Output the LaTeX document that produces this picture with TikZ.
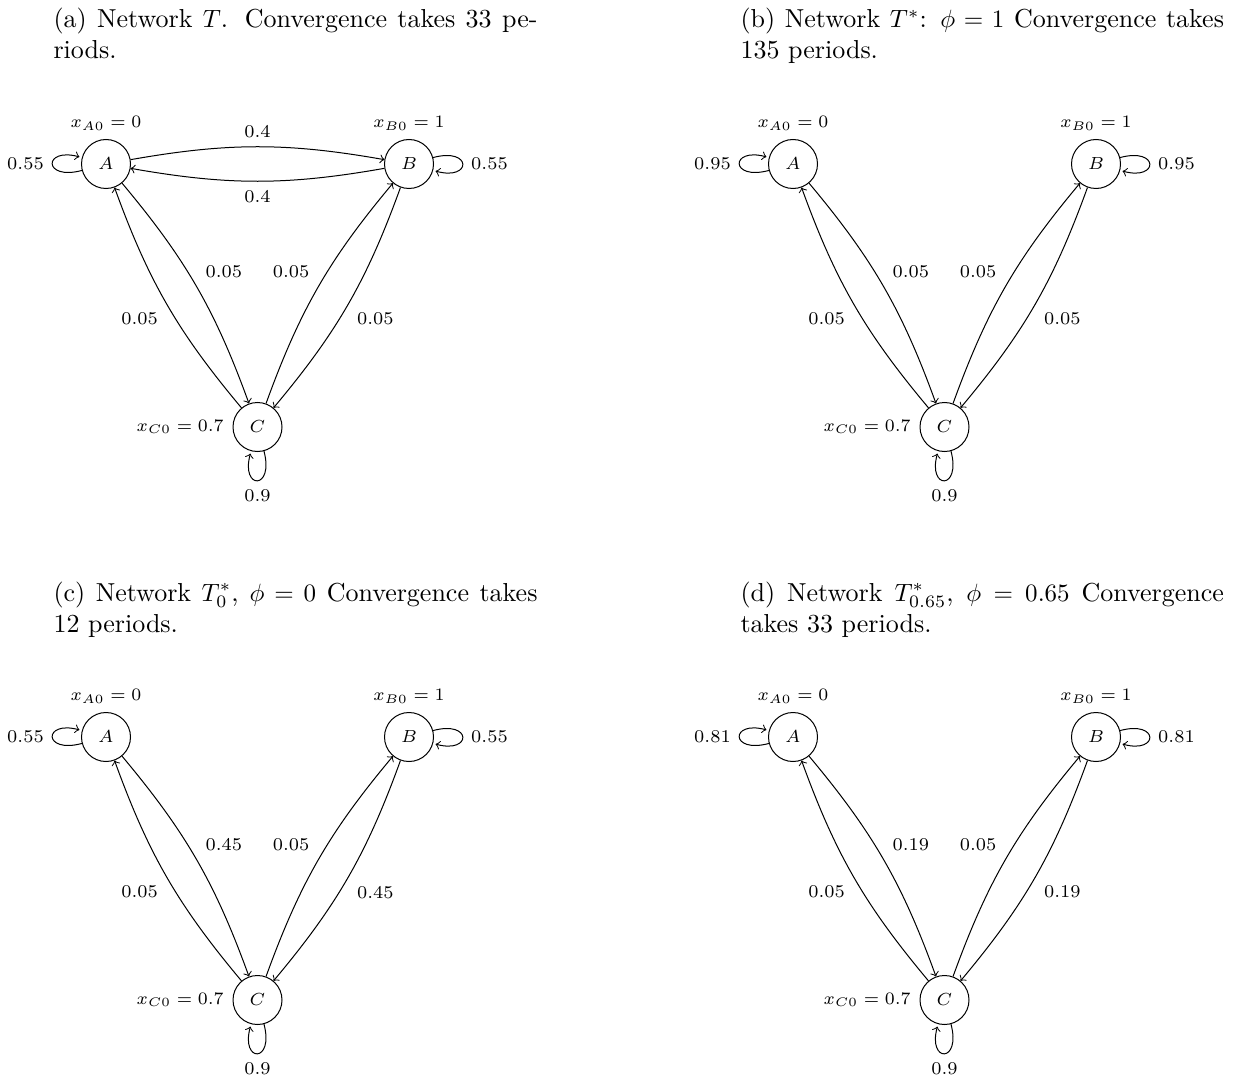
\documentclass[tikz,border=0pt]{standalone}
\usetikzlibrary{arrows}
\newcommand\gfont{\fontsize{7.2}{8.6}\selectfont}
\newcommand\cfont{\fontsize{10.4}{12.5}\selectfont}
\tikzset{
  st/.style={circle,draw,minimum size=19.6pt,inner sep=0pt,font=\gfont},
  every label/.style={font=\gfont},
  elab/.style={auto,font=\gfont},
  bnd/.style={bend left=10},
  captxt/.style={anchor=base west,inner sep=0pt,font=\cfont}
}
\begin{document}
\begin{tikzpicture}[x=0.4pt,y=0.4pt]
\useasboundingbox (0,0) rectangle (1238,-1078);
% captions
\node[captxt] (capa1) at (53,-28) {\makebox[193.6pt][s]{(a) Network $T$. Convergence takes 33 pe-}};
\node[captxt] (capa2) at (53,-59) {riods.};
\node[captxt] (capb1) at (740,-28) {\makebox[193.4pt][s]{(b) Network $T^*$: $\phi = 1$ Convergence takes}};
\node[captxt] (capb2) at (740,-59) {135 periods.};
\node[captxt] (capc1) at (53,-601) {\makebox[193.6pt][s]{(c) Network $T^*_0$, $\phi = 0$ Convergence takes}};
\node[captxt] (capc2) at (53,-632) {12 periods.};
\node[captxt] (capd1) at (740,-601) {\makebox[193.4pt][s]{(d) Network $T^*_{0.65}$, $\phi = 0.65$ Convergence}};
\node[captxt] (capd2) at (740,-632) {takes 33 periods.};
% panel (a)
\node[st,label=above:{$x_{A0}=0$}] (aA) at (106,-164) {$A$};
\node[st,label=above:{$x_{B0}=1$}] (aB) at (409,-164) {$B$};
\node[st,label=left:{$x_{C0}=0.7$}] (aC) at (257.5,-427) {$C$};
\draw[->] (aA) edge[loop left] node[left,font=\gfont] {0.55} (aA);
\draw[->] (aB) edge[loop right] node[right,font=\gfont] {0.55} (aB);
\draw[->] (aC) edge[loop below] node[below,font=\gfont] {0.9} (aC);
\draw[->] (aA) to[bnd] node[elab] {0.4} (aB);
\draw[->] (aB) to[bnd] node[elab] {0.4} (aA);
\draw[->] (aA) to[bnd] node[elab] {0.05} (aC);
\draw[->] (aC) to[bnd] node[elab] {0.05} (aA);
\draw[->] (aB) to[bnd] node[elab] {0.05} (aC);
\draw[->] (aC) to[bnd] node[elab] {0.05} (aB);
% panel (b)
\node[st,label=above:{$x_{A0}=0$}] (bA) at (793,-164) {$A$};
\node[st,label=above:{$x_{B0}=1$}] (bB) at (1096,-164) {$B$};
\node[st,label=left:{$x_{C0}=0.7$}] (bC) at (944.5,-427) {$C$};
\draw[->] (bA) edge[loop left] node[left,font=\gfont] {0.95} (bA);
\draw[->] (bB) edge[loop right] node[right,font=\gfont] {0.95} (bB);
\draw[->] (bC) edge[loop below] node[below,font=\gfont] {0.9} (bC);
\draw[->] (bA) to[bnd] node[elab] {0.05} (bC);
\draw[->] (bC) to[bnd] node[elab] {0.05} (bA);
\draw[->] (bB) to[bnd] node[elab] {0.05} (bC);
\draw[->] (bC) to[bnd] node[elab] {0.05} (bB);
% panel (c)
\node[st,label=above:{$x_{A0}=0$}] (cA) at (106,-737) {$A$};
\node[st,label=above:{$x_{B0}=1$}] (cB) at (409,-737) {$B$};
\node[st,label=left:{$x_{C0}=0.7$}] (cC) at (257.5,-1000) {$C$};
\draw[->] (cA) edge[loop left] node[left,font=\gfont] {0.55} (cA);
\draw[->] (cB) edge[loop right] node[right,font=\gfont] {0.55} (cB);
\draw[->] (cC) edge[loop below] node[below,font=\gfont] {0.9} (cC);
\draw[->] (cA) to[bnd] node[elab] {0.45} (cC);
\draw[->] (cC) to[bnd] node[elab] {0.05} (cA);
\draw[->] (cB) to[bnd] node[elab] {0.45} (cC);
\draw[->] (cC) to[bnd] node[elab] {0.05} (cB);
% panel (d)
\node[st,label=above:{$x_{A0}=0$}] (dA) at (793,-737) {$A$};
\node[st,label=above:{$x_{B0}=1$}] (dB) at (1096,-737) {$B$};
\node[st,label=left:{$x_{C0}=0.7$}] (dC) at (944.5,-1000) {$C$};
\draw[->] (dA) edge[loop left] node[left,font=\gfont] {0.81} (dA);
\draw[->] (dB) edge[loop right] node[right,font=\gfont] {0.81} (dB);
\draw[->] (dC) edge[loop below] node[below,font=\gfont] {0.9} (dC);
\draw[->] (dA) to[bnd] node[elab] {0.19} (dC);
\draw[->] (dC) to[bnd] node[elab] {0.05} (dA);
\draw[->] (dB) to[bnd] node[elab] {0.19} (dC);
\draw[->] (dC) to[bnd] node[elab] {0.05} (dB);
\end{tikzpicture}
\end{document}
